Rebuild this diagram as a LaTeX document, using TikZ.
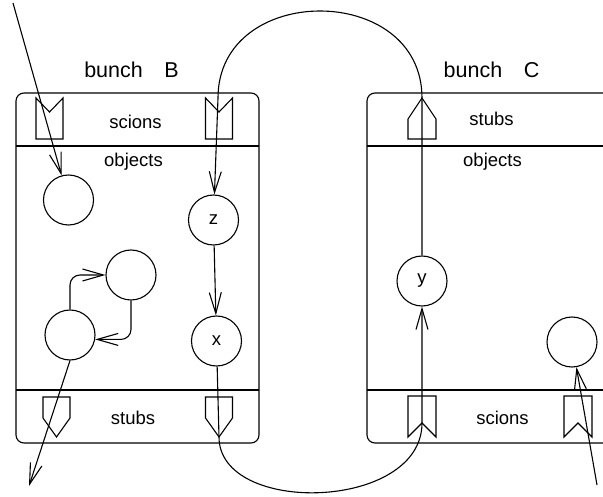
\documentclass[tikz,border=0pt]{standalone}
\usepackage{fontspec}
\setmainfont{Liberation Sans}
\usetikzlibrary{arrows.meta}

\begin{document}
\begin{tikzpicture}[x=1pt, y=-1pt, line width=1.1pt,
    obj/.style={circle, draw, minimum size=50pt, inner sep=0pt, font=\fontsize{18.5}{18.5}\selectfont},
    lbl/.style={anchor=base, inner sep=0pt, font=\fontsize{18.5}{18.5}\selectfont},
    title/.style={anchor=base, inner sep=0pt, font=\fontsize{21.5}{21.5}\selectfont},
    ref/.style={-{Straight Barb[length=21pt,width=12pt]}}]
    \clip (0,0) rectangle (603,497);

    % Bunch boxes with their three parts
    \draw[rounded corners=8pt] (16,93) rectangle (259,443);
    \draw[rounded corners=8pt] (367,93) rectangle (640,443);
    \draw (16,146) -- (259,146) (16,390) -- (259,390);
    \draw (367,146) -- (640,146) (367,390) -- (640,390);
    \node[title] (titleB) at (131.5,78) {bunch\quad B};
    \node[title] (titleC) at (491.5,78) {bunch\quad C};
    \node[lbl] (scionsB) at (135.5,129) {scions};
    \node[lbl] (objectsB) at (133.5,167) {objects};
    \node[lbl] (stubsB) at (133,424) {stubs};
    \node[lbl] (stubsC) at (491.5,126) {stubs};
    \node[lbl] (objectsC) at (492.5,167) {objects};
    \node[lbl] (scionsC) at (502.5,424) {scions};

    % Scions and stubs
    \foreach \sx in {49.5,219}
        \draw (\sx-13.5,98) -- (\sx,112) -- (\sx+13.5,98) -- (\sx+13.5,139) -- (\sx-13.5,139) -- cycle;
    \foreach \sx in {56.5,219}
        \draw (\sx-13.5,397) -- (\sx+13.5,397) -- (\sx+13.5,418) -- (\sx,437) -- (\sx-13.5,418) -- cycle;
    \draw (408,139) -- (408,119) -- (422,98) -- (436,119) -- (436,139) -- cycle;
    \foreach \sx in {422,578}
        \draw (\sx-14,396) -- (\sx+14,396) -- (\sx+14,437) -- (\sx,423) -- (\sx-14,437) -- cycle;

    % Objects
    \node[obj] (root) at (68.5,200) {};
    \node[obj] (z) at (213.5,220) {z};
    \node[obj] (loopA) at (131,275) {};
    \node[obj] (loopB) at (70,335) {};
    \node[obj] (x) at (216.5,341) {x};
    \node[obj] (y) at (422,281) {y};
    \node[obj] (free) at (572,342) {};

    \coordinate (in1) at (13,3);
    \coordinate (out1) at (29,486);
    \coordinate (in2) at (597,485);
    \coordinate (scB) at (218,98);
    \coordinate (stC) at (422,98);
    \coordinate (stB) at (219,437);
    \coordinate (scC) at (422,423);

    % References
    \draw[ref] (in1) -- (root);
    \draw[ref] (y) -- (stC) .. controls (422,-18) and (218,-18) .. (scB) -- (z);
    \draw[ref] (z) -- (x);
    \draw[ref] (x) -- (stB) .. controls (219,516) and (422,511) .. (scC) -- (y);
    \draw[ref, rounded corners=10pt] (loopB.north) |- (loopA.west);
    \draw[ref, rounded corners=10pt] (loopA.south) |- (loopB.-10);
    \draw[ref] (loopB.south) -- (out1);
    \draw[ref] (in2) -- (free);
\end{tikzpicture}
\end{document}
